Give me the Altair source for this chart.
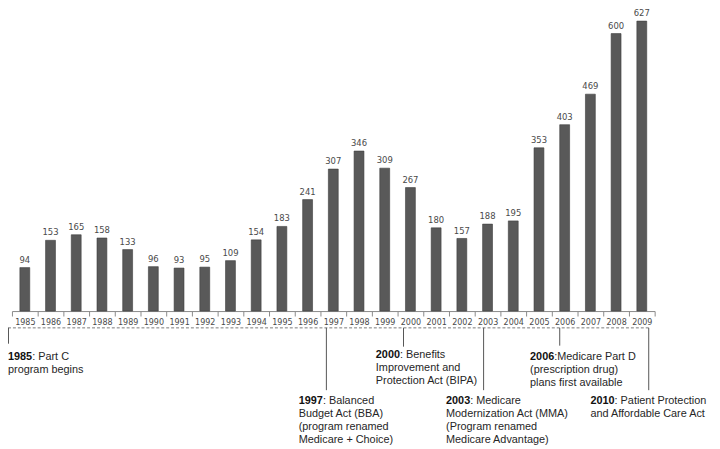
import altair as alt
import pandas as pd

# ---- data ----
years = ["1985", "1986", "1987", "1988", "1989", "1990", "1991", "1992", "1993",
         "1994", "1995", "1996", "1997", "1998", "1999", "2000", "2001", "2002",
         "2003", "2004", "2005", "2006", "2007", "2008", "2009"]
values = [94, 153, 165, 158, 133, 96, 93, 95, 109, 154, 183, 241, 307, 346, 309,
          267, 180, 157, 188, 195, 353, 403, 469, 600, 627]

anno_years = ["1985", "1997", "2000", "2003", "2006", "2010"]
anno_first = [": Part C", ": Balanced", ": Benefits", ": Medicare",
              ":Medicare Part D", ": Patient Protection"]
anno_more = [
    ["program begins"],
    ["Budget Act (BBA)", "(program renamed", "Medicare + Choice)"],
    ["Improvement and", "Protection Act (BIPA)"],
    ["Modernization Act (MMA)", "(Program renamed", "Medicare Advantage)"],
    ["(prescription drug)", "plans first available"],
    ["and Affordable Care Act"],
]

# ---- layout (pixel positions of the annotation callouts, view coords) ----
text_x = [-4, 290, 368, 439, 524, 585]
text_y = [350, 395, 348, 395, 350, 395]
line_x = [-3.5, 318, 396, 477, 554, 644]
line_y2 = [337, 384, 340, 384, 339, 384]
line_h = 13.2
FS = 11
bold_w = 0.556 * 4 * FS
TXT = "#262626"

df = pd.DataFrame({"year": years, "value": values})

rules_df = pd.DataFrame({"lx": line_x, "ly1": [321] * 6, "ly2": line_y2})
bold_df = pd.DataFrame({"tx": text_x, "ty": text_y, "t": anno_years})
rows = []
for i in range(len(anno_years)):
    rows.append({"tx": text_x[i] + bold_w, "ty": text_y[i], "t": anno_first[i]})
    for j, s in enumerate(anno_more[i]):
        rows.append({"tx": text_x[i], "ty": text_y[i] + (j + 1) * line_h, "t": s})
rest_df = pd.DataFrame(rows)

xscale = alt.Scale(paddingInner=0, paddingOuter=0)
yscale = alt.Scale(domain=[0, 650], nice=False)
xaxis = alt.Axis(tickBand="extent", tickSize=5, tickColor="#8a8a8a",
                 domainColor="#8a8a8a", labelFont="DejaVu Sans Condensed",
                 labelFontSize=9, labelColor="#4a4a4a", labelPadding=2,
                 labelAngle=0, grid=False, title=None)

bars = alt.Chart(df).mark_bar(size=10, fill="#595959", stroke="#3e3e3e",
                              strokeWidth=0.6).encode(
    x=alt.X("year:N", sort=years, scale=xscale, axis=xaxis),
    y=alt.Y("value:Q", scale=yscale, axis=None),
)

labels = alt.Chart(df).mark_text(baseline="bottom", dy=-3,
                                 font="DejaVu Sans Condensed", fontSize=9.5,
                                 color="#4a4a4a").encode(
    x=alt.X("year:N", sort=years, scale=xscale, axis=xaxis),
    y=alt.Y("value:Q", scale=yscale, axis=None),
    text="value:Q",
)

dash = alt.Chart(pd.DataFrame({"a": [0]})).mark_rule(
    strokeDash=[3, 2], color="#7a7a7a", strokeWidth=1).encode(
    x=alt.value(-4), x2=alt.value(644), y=alt.value(321))

vrules = alt.Chart(rules_df).mark_rule(color="#555555", strokeWidth=1).encode(
    x=alt.X("lx:Q", scale=None, axis=None),
    y=alt.Y("ly1:Q", scale=None, axis=None),
    y2="ly2:Q",
)

bold_txt = alt.Chart(bold_df).mark_text(
    align="left", baseline="middle", font="Liberation Sans", fontSize=FS,
    fontWeight="bold", color="#111111").encode(
    x=alt.X("tx:Q", scale=None, axis=None),
    y=alt.Y("ty:Q", scale=None, axis=None),
    text="t:N",
)

rest_txt = alt.Chart(rest_df).mark_text(
    align="left", baseline="middle", font="Liberation Sans", fontSize=FS,
    color=TXT).encode(
    x=alt.X("tx:Q", scale=None, axis=None),
    y=alt.Y("ty:Q", scale=None, axis=None),
    text="t:N",
)

chart = alt.layer(bars, labels, dash, vrules, bold_txt, rest_txt).properties(
    width=650, height=304,
    padding={"left": 4, "top": 0, "right": 58, "bottom": 137},
    autosize="none",
).configure_view(stroke=None)

chart.save("out.html", embed_options={"renderer": "svg", "actions": False})
